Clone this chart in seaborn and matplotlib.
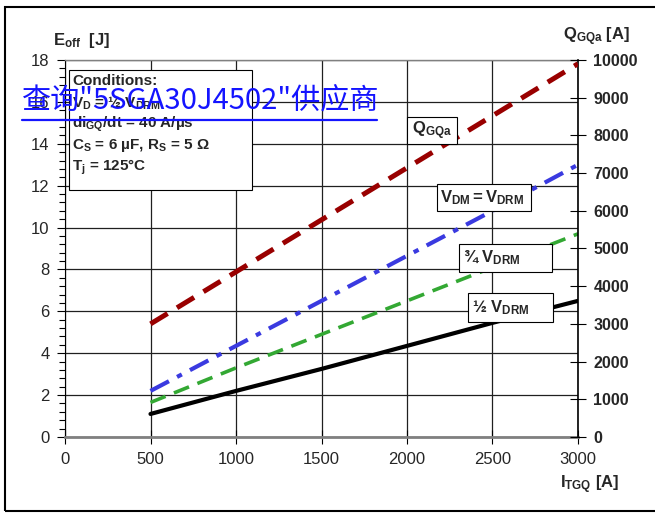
import matplotlib
matplotlib.use('Agg')
import matplotlib.pyplot as plt
import seaborn as sns
from matplotlib.patches import Rectangle
from matplotlib.lines import Line2D
from matplotlib.ticker import MultipleLocator

# values
i_tgq = [500, 1000, 1500, 2000, 2500, 3000]          # I_TGQ [A]
e_half = [1.1, 2.2, 3.25, 4.35, 5.45, 6.5]           # 1/2 VDRM  [J]
e_three_q = [1.65, 3.3, 4.9, 6.5, 8.1, 9.7]          # 3/4 VDRM  [J]
e_full = [2.2, 4.35, 6.5, 8.65, 10.8, 13.0]          # VDM = VDRM [J]
q_gqa = [3000, 4380, 5760, 7140, 8520, 9900]         # Q_GQa [A]

x_ticks = [0, 500, 1000, 1500, 2000, 2500, 3000]
y_ticks = [0, 2, 4, 6, 8, 10, 12, 14, 16, 18]
q_ticks = [0, 1000, 2000, 3000, 4000, 5000, 6000, 7000, 8000, 9000, 10000]

conditions = [
    'Conditions:',
    r'$\mathbf{V_D}$ = ½ $\mathbf{V_{DRM}}$',
    r'$\mathbf{di_{GQ}/dt}$ = 40 A/µs',
    r'$\mathbf{C_S}$ = 6 µF, $\mathbf{R_S}$ = 5 Ω',
    r'$\mathbf{T_j}$ = 125°C',
]

sns.set_style('white')
plt.rcParams['font.family'] = ['Liberation Sans', 'DejaVu Sans']
plt.rcParams['mathtext.fontset'] = 'custom'
plt.rcParams['mathtext.rm'] = 'Liberation Sans'
plt.rcParams['mathtext.bf'] = 'Liberation Sans:bold'
plt.rcParams['mathtext.it'] = 'Liberation Sans:italic'

fig = plt.figure(figsize=(6.55, 5.13), dpi=100)
ax = fig.add_axes([65 / 655, 76 / 513, 513 / 655, 377 / 513])
ax2 = ax.twinx()

sns.lineplot(x=i_tgq, y=e_half, ax=ax, color='black', lw=3, zorder=3)
sns.lineplot(x=i_tgq, y=e_three_q, ax=ax, color='#33a833', lw=2.6,
             linestyle=(0, (4.5, 2.5)), zorder=3)
sns.lineplot(x=i_tgq, y=e_full, ax=ax, color='#3a3ae0', lw=3,
             linestyle=(0, (5, 2.2, 1.3, 2.2)), zorder=3)
sns.lineplot(x=i_tgq, y=q_gqa, ax=ax2, color='#990000', lw=3.6,
             linestyle=(0, (4, 2.2)), zorder=3)

ax.set_xlim(0, 3000)
ax.set_ylim(0, 18)
ax2.set_ylim(0, 10000)
ax.set_xticks(x_ticks)
ax.set_yticks(y_ticks)
ax.yaxis.set_minor_locator(MultipleLocator(0.4))
ax2.set_yticks(q_ticks)
ax.grid(True, which='major', color='#202020', lw=0.9)

ax.tick_params(axis='y', which='major', direction='out', length=6, width=0.8,
               labelsize=12, pad=5, left=True, color='black')
ax.tick_params(axis='y', which='minor', direction='out', length=4, width=0.8,
               left=True, color='black')
ax.tick_params(axis='x', direction='inout', length=10, width=0.8,
               labelsize=12, pad=6, bottom=True, color='black')
ax2.tick_params(axis='y', direction='inout', length=12, width=0.8,
                labelsize=11.5, pad=5, right=True, color='black')
for lbl in ax2.get_yticklabels():
    lbl.set_fontweight('bold')

for s in ['left', 'bottom', 'top']:
    ax2.spines[s].set_visible(False)
ax.spines['right'].set_visible(False)
ax.spines['left'].set_color('black')
ax.spines['left'].set_linewidth(0.8)
ax.spines['bottom'].set_color('#808080')
ax.spines['bottom'].set_linewidth(2)
ax.spines['top'].set_color('#808080')
ax.spines['top'].set_linewidth(1)
ax2.spines['right'].set_color('black')
ax2.spines['right'].set_linewidth(1.2)
ax.set_xlabel('')
ax.set_ylabel('')
ax2.set_ylabel('')


def add_box(x0, y0, x1, y1):
    ax2.add_patch(Rectangle((x0, y0), x1 - x0, y1 - y0, transform=ax.transData,
                            fc='white', ec='black', lw=0.8, zorder=5))


def add_label(x, y, s, size=12):
    ax2.text(x, y, s, transform=ax.transData, fontsize=size, fontweight='bold',
             va='center', ha='left', zorder=6)


# conditions box
add_box(23, 11.8, 1094, 17.53)
for s, yy in zip(conditions, [17.02, 15.91, 14.95, 13.93, 12.89]):
    add_label(41, yy, s, size=11)

# curve labels
add_box(2000, 13.99, 2292, 15.28)
add_label(2029, 14.62, r'$\mathbf{Q_{GQa}}$')
add_box(2175, 10.79, 2725, 12.08)
add_label(2193, 11.42, r'$\mathbf{V_{DM}{=}V_{DRM}}$')
add_box(2304, 7.88, 2848, 9.22)
add_label(2327, 8.55, r'¾ $\mathbf{V_{DRM}}$')
add_box(2357, 5.49, 2854, 6.88)
add_label(2380, 6.18, r'½ $\mathbf{V_{DRM}}$')

# axis titles
fig.text(53 / 655, 1 - 40 / 513, r'$\mathbf{E_{off}}$  [J]', fontsize=12,
         fontweight='bold', va='center')
fig.text(563 / 655, 1 - 37 / 513, r'$\mathbf{Q_{GQa}}$ [A]', fontsize=12,
         fontweight='bold', va='center')
fig.text(560 / 655, 1 - 485 / 513, r'$\mathbf{I_{TGQ}}$ [A]', fontsize=12,
         fontweight='bold', va='center')

# watermark
fig.text(22 / 655, 1 - 100 / 513, '查询"5SGA30J4502"供应商', fontsize=21,
         color='#1414ff', va='center', ha='left',
         family=['Noto Sans CJK SC', 'DejaVu Sans'], zorder=10)
fig.add_artist(Line2D([22 / 655, 377 / 655], [1 - 120 / 513, 1 - 120 / 513],
                      transform=fig.transFigure, color='#1414ff', lw=1.6, zorder=10))

# outer frame
fig.add_artist(Rectangle((5 / 655, 2 / 513), 1.0, 1 - 9 / 513, transform=fig.transFigure,
                         fill=False, ec='black', lw=1.5))

fig.savefig('out.png', dpi=100)
